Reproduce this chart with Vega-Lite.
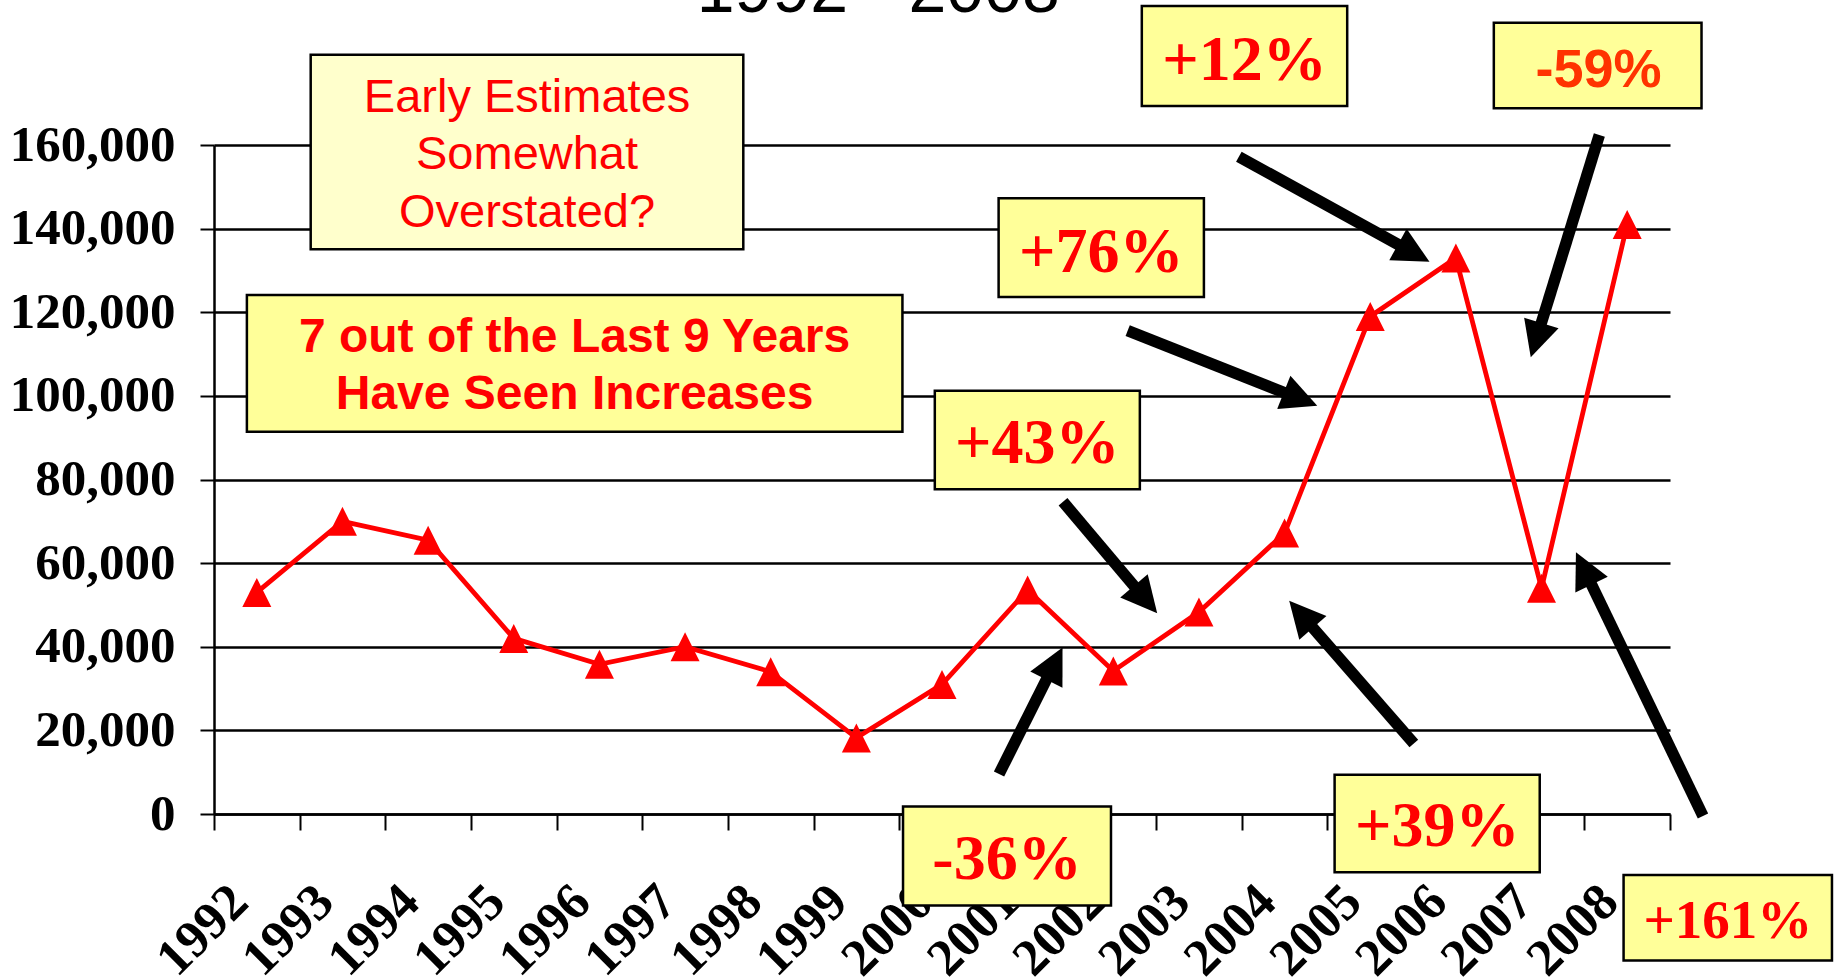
{
  "$schema": "https://vega.github.io/schema/vega-lite/v6.json",
  "width": 1456,
  "height": 669,
  "autosize": {"type": "none"},
  "padding": {"left": 214, "top": 145, "right": 170, "bottom": 163},
  "background": "white",
  "config": {
    "view": {"stroke": null},
    "axis": {
      "domainColor": "black", "domainWidth": 2.5,
      "tickColor": "black", "tickWidth": 2,
      "labelColor": "black", "labelFont": "Liberation Serif", "labelFontWeight": "bold",
      "labelOverlap": false, "labelFlush": false, "labelBound": false
    },
    "axisY": {"grid": true, "gridColor": "black", "gridWidth": 2.5, "gridOpacity": 1, "tickSize": 14, "labelFontSize": 51, "labelPadding": 25, "labelBaseline": "middle"},
    "axisX": {"grid": false, "tickBand": "extent", "tickSize": 16, "labelFontSize": 52, "labelAngle": -45, "labelAlign": "right", "labelBaseline": "middle", "labelPadding": 63, "labelOffset": -18}
  },
  "datasets": {
    "series": [
      {"year": 1992, "v": 53000}, {"year": 1993, "v": 70000}, {"year": 1994, "v": 65500},
      {"year": 1995, "v": 42000}, {"year": 1996, "v": 35800}, {"year": 1997, "v": 40000},
      {"year": 1998, "v": 34000}, {"year": 1999, "v": 18200}, {"year": 2000, "v": 31000},
      {"year": 2001, "v": 53600}, {"year": 2002, "v": 34200}, {"year": 2003, "v": 48300},
      {"year": 2004, "v": 67200}, {"year": 2005, "v": 119000}, {"year": 2006, "v": 133000},
      {"year": 2007, "v": 54000}, {"year": 2008, "v": 141000}
    ],
    "boxes": [
      {"kind": "light", "x1": 1992.629, "x2": 1997.680, "y1": 181590, "y2": 135050},
      {"kind": "bright", "x1": 1991.884, "x2": 1999.538, "y1": 124120, "y2": 91430},
      {"kind": "bright", "x1": 2002.333, "x2": 2004.731, "y1": 193240, "y2": 169330},
      {"kind": "bright", "x1": 2006.443, "x2": 2008.868, "y1": 189250, "y2": 168780},
      {"kind": "bright", "x1": 2000.661, "x2": 2003.058, "y1": 147250, "y2": 123650},
      {"kind": "bright", "x1": 1999.916, "x2": 2002.310, "y1": 101240, "y2": 77660},
      {"kind": "bright", "x1": 1999.545, "x2": 2001.973, "y1": 1820, "y2": -21860},
      {"kind": "bright", "x1": 2004.584, "x2": 2006.979, "y1": 9375, "y2": -13940},
      {"kind": "bright", "x1": 2007.958, "x2": 2010.391, "y1": -14590, "y2": -35060}
    ],
    "notes": [
      {"kind": "early", "lines": ["Early Estimates", "Somewhat", "Overstated?"], "x": 1995.155, "y": 167960},
      {"kind": "seven", "lines": ["7 out of the Last 9 Years", "Have Seen Increases"], "x": 1995.710, "y": 110560}
    ],
    "heading": [
      {"label": "1992 - 2008", "x": 1999.256, "y": 191880}
    ],
    "pcts": [
      {"label": "+12%", "font": "serifL", "x": 2003.532, "y": 175540},
      {"label": "+76%", "font": "serifL", "x": 2001.859, "y": 129700},
      {"label": "+43%", "font": "serifL", "x": 2001.113, "y": 83945},
      {"label": "+39%", "font": "serifL", "x": 2005.782, "y": -7750},
      {"label": "-36%", "font": "serifL", "x": 2000.759, "y": -15470},
      {"label": "+161%", "font": "serifS", "x": 2009.175, "y": -29580},
      {"label": "-59%", "font": "sans", "x": 2007.665, "y": 173940}
    ],
    "arrows": [
      {"x": 2003.466, "y": 157200, "hx": 2005.508, "hy": 134140, "deg": 118.9},
      {"x": 2007.675, "y": 162390, "hx": 2006.936, "hy": 113330, "deg": 197.1},
      {"x": 2002.168, "y": 115590, "hx": 2004.186, "hy": 99250, "deg": 111.6},
      {"x": 2001.413, "y": 74670, "hx": 2002.377, "hy": 51280, "deg": 139.8},
      {"x": 2000.666, "y": 9570, "hx": 2001.313, "hy": 35990, "deg": 26.7},
      {"x": 2005.509, "y": 16840, "hx": 2004.192, "hy": 47760, "deg": 318.9},
      {"x": 2008.885, "y": -478, "hx": 2007.493, "hy": 58740, "deg": 334.3}
    ]
  },
  "resolve": {"scale": {"x": "independent"}},
  "layer": [
    {
      "data": {"name": "series"},
      "encoding": {
        "x": {"field": "year", "type": "ordinal", "title": null,
              "scale": {"type": "band", "paddingInner": 0, "paddingOuter": 0}},
        "y": {"field": "v", "type": "quantitative", "title": null,
              "scale": {"domain": [0, 160000], "nice": false},
              "axis": {"values": [0, 20000, 40000, 60000, 80000, 100000, 120000, 140000, 160000], "format": ",d"}}
      },
      "layer": [
        {"mark": {"type": "line", "color": "#FF0000", "strokeWidth": 4.8}},
        {"mark": {"type": "point", "shape": "M0,-1L1,1L-1,1Z", "size": 841, "filled": true, "color": "#FF0000", "opacity": 1}}
      ]
    },
    {
      "layer": [
        {
          "data": {"name": "boxes"},
          "mark": {"type": "rect", "fill": "#8C8C8C", "xOffset": 1, "yOffset": 3},
          "encoding": {
            "x": {"field": "x1", "type": "quantitative", "axis": null, "scale": {"domain": [1991.5, 2008.5], "nice": false, "zero": false}},
            "x2": {"field": "x2"},
            "y": {"field": "y1", "type": "quantitative", "title": null, "scale": {"domain": [0, 160000], "nice": false}},
            "y2": {"field": "y2"}
          }
        },
        {
          "data": {"name": "boxes"},
          "mark": {"type": "rect", "stroke": "black", "strokeWidth": 2.5},
          "encoding": {
            "x": {"field": "x1", "type": "quantitative", "axis": null, "scale": {"domain": [1991.5, 2008.5], "nice": false, "zero": false}},
            "x2": {"field": "x2"},
            "y": {"field": "y1", "type": "quantitative", "title": null, "scale": {"domain": [0, 160000], "nice": false}},
            "y2": {"field": "y2"},
            "fill": {"field": "kind", "type": "nominal", "legend": null, "scale": {"domain": ["light", "bright"], "range": ["#FFFFCC", "#FFFF99"]}}
          }
        },
        {
          "data": {"name": "notes"},
          "transform": [{"filter": "datum.kind === 'early'"}],
          "mark": {"type": "text", "font": "Liberation Sans", "fontSize": 47, "color": "#FF0000", "align": "center", "baseline": "alphabetic", "lineHeight": 57.5},
          "encoding": {
            "x": {"field": "x", "type": "quantitative", "axis": null, "scale": {"domain": [1991.5, 2008.5], "nice": false, "zero": false}},
            "y": {"field": "y", "type": "quantitative", "title": null, "scale": {"domain": [0, 160000], "nice": false}},
            "text": {"field": "lines"}
          }
        },
        {
          "data": {"name": "notes"},
          "transform": [{"filter": "datum.kind === 'seven'"}],
          "mark": {"type": "text", "font": "Liberation Sans", "fontWeight": "bold", "fontSize": 48, "color": "#FF0000", "align": "center", "baseline": "alphabetic", "lineHeight": 57.6},
          "encoding": {
            "x": {"field": "x", "type": "quantitative", "axis": null, "scale": {"domain": [1991.5, 2008.5], "nice": false, "zero": false}},
            "y": {"field": "y", "type": "quantitative", "title": null, "scale": {"domain": [0, 160000], "nice": false}},
            "text": {"field": "lines"}
          }
        },
        {
          "data": {"name": "heading"},
          "mark": {"type": "text", "font": "Liberation Sans", "fontSize": 68, "color": "black", "align": "center", "baseline": "alphabetic"},
          "encoding": {
            "x": {"field": "x", "type": "quantitative", "axis": null, "scale": {"domain": [1991.5, 2008.5], "nice": false, "zero": false}},
            "y": {"field": "y", "type": "quantitative", "title": null, "scale": {"domain": [0, 160000], "nice": false}},
            "text": {"field": "label"}
          }
        },
        {
          "data": {"name": "pcts"},
          "transform": [{"filter": "datum.font === 'serifL'"}],
          "mark": {"type": "text", "font": "Liberation Serif", "fontWeight": "bold", "fontSize": 64, "color": "#FF0000", "align": "center", "baseline": "alphabetic"},
          "encoding": {
            "x": {"field": "x", "type": "quantitative", "axis": null, "scale": {"domain": [1991.5, 2008.5], "nice": false, "zero": false}},
            "y": {"field": "y", "type": "quantitative", "title": null, "scale": {"domain": [0, 160000], "nice": false}},
            "text": {"field": "label"}
          }
        },
        {
          "data": {"name": "pcts"},
          "transform": [{"filter": "datum.font === 'serifS'"}],
          "mark": {"type": "text", "font": "Liberation Serif", "fontWeight": "bold", "fontSize": 55, "color": "#FF0000", "align": "center", "baseline": "alphabetic"},
          "encoding": {
            "x": {"field": "x", "type": "quantitative", "axis": null, "scale": {"domain": [1991.5, 2008.5], "nice": false, "zero": false}},
            "y": {"field": "y", "type": "quantitative", "title": null, "scale": {"domain": [0, 160000], "nice": false}},
            "text": {"field": "label"}
          }
        },
        {
          "data": {"name": "pcts"},
          "transform": [{"filter": "datum.font === 'sans'"}],
          "mark": {"type": "text", "font": "Liberation Sans", "fontWeight": "bold", "fontSize": 54, "color": "#FF3300", "align": "center", "baseline": "alphabetic"},
          "encoding": {
            "x": {"field": "x", "type": "quantitative", "axis": null, "scale": {"domain": [1991.5, 2008.5], "nice": false, "zero": false}},
            "y": {"field": "y", "type": "quantitative", "title": null, "scale": {"domain": [0, 160000], "nice": false}},
            "text": {"field": "label"}
          }
        },
        {
          "data": {"name": "arrows"},
          "mark": {"type": "rule", "color": "black", "strokeWidth": 11.5, "strokeCap": "butt"},
          "encoding": {
            "x": {"field": "x", "type": "quantitative", "axis": null, "scale": {"domain": [1991.5, 2008.5], "nice": false, "zero": false}},
            "y": {"field": "y", "type": "quantitative", "title": null, "scale": {"domain": [0, 160000], "nice": false}},
            "x2": {"field": "hx"},
            "y2": {"field": "hy"}
          }
        },
        {
          "data": {"name": "arrows"},
          "mark": {"type": "point", "shape": "M0,-1L1,1L-1,1Z", "size": 1296, "filled": true, "color": "black", "opacity": 1},
          "encoding": {
            "x": {"field": "hx", "type": "quantitative", "axis": null, "scale": {"domain": [1991.5, 2008.5], "nice": false, "zero": false}},
            "y": {"field": "hy", "type": "quantitative", "title": null, "scale": {"domain": [0, 160000], "nice": false}},
            "angle": {"field": "deg", "type": "quantitative", "scale": null}
          }
        }
      ]
    }
  ]
}
